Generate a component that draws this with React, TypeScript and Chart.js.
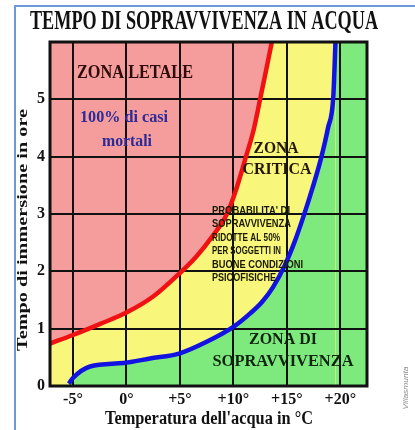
import React, { useEffect, useRef } from "react";
import { Chart, registerables } from "chart.js";

Chart.register(...registerables);

// ---- data ----
const redTemp = [-7.15, -5, -2.5, 0, 2.5, 5, 6.5, 8, 9.4, 10.3, 11.1, 11.9, 12.5, 13.0, 13.6];
const redHours = [0.74, 0.89, 1.08, 1.28, 1.56, 1.97, 2.25, 2.6, 3.0, 3.45, 3.95, 4.47, 5.0, 5.45, 6.0];

const blueTemp = [-5.4, -5, -3.4, -0.3, 2.2, 5.0, 7.5, 10.0, 11.6, 12.7, 13.7, 14.8, 15.7, 16.6, 17.4, 18.2, 18.85, 19.35, 19.55];
const blueHours = [0.04, 0.14, 0.34, 0.4, 0.48, 0.57, 0.77, 1.03, 1.27, 1.47, 1.72, 2.1, 2.5, 2.98, 3.45, 3.97, 4.5, 5.05, 6.0];

const xTickValues = [-5, 0, 5, 10, 15, 20];
const xTickLabels = ["-5°", "0°", "+5°", "+10°", "+15°", "+20°"];
const yTickValues = [0, 1, 2, 3, 4, 5];
const yTickLabels = ["0", "1", "2", "3", "4", "5"];

const xMin = -7.15;
const xMax = 22.5;
const yMin = 0;
const yMax = 6;

const titleText = "TEMPO DI SOPRAVVIVENZA IN ACQUA";
const xTitleText = "Temperatura dell'acqua in °C";
const yTitleText = "Tempo di immersione in ore";
const lethalLabel = "ZONA LETALE";
const lethalNote = ["100% di casi", "mortali"];
const criticalLabel = ["ZONA", "CRITICA"];
const criticalNote = [
  "PROBABILITA' DI",
  "SOPRAVVIVENZA",
  "RIDOTTE AL 50%",
  "PER SOGGETTI IN",
  "BUONE CONDIZIONI",
  "PSICOFISICHE",
];
const survivalLabel = ["ZONA DI", "SOPRAVVIVENZA"];
const creditText = "Villasmunta";

// ---- styles ----
const PINK = "#f59d9d";
const YELLOW = "#f9f67c";
const GREEN = "#7eea7e";
const RED = "#f01212";
const BLUE = "#1212e2";
const SERIF = "'Liberation Serif', 'Times New Roman', serif";
const SANS = "'Liberation Sans', Arial, sans-serif";

function fitText(
  ctx: CanvasRenderingContext2D,
  text: string,
  x: number,
  y: number,
  font: string,
  width: number,
  color: string,
  align: CanvasTextAlign = "center",
  rotate = 0
) {
  ctx.save();
  ctx.font = font;
  ctx.fillStyle = color;
  ctx.textBaseline = "middle";
  ctx.textAlign = align;
  const w = ctx.measureText(text).width;
  ctx.translate(x, y);
  if (rotate) ctx.rotate(rotate);
  ctx.scale(width / w, 1);
  ctx.fillText(text, 0, 0);
  ctx.restore();
}

const overlayPlugin = {
  id: "overlay",
  afterDatasetsDraw(chart: any) {
    const { ctx, chartArea: a } = chart;
    ctx.save();
    ctx.lineWidth = 3;
    ctx.strokeStyle = "#111";
    ctx.strokeRect(a.left, a.top, a.right - a.left, a.bottom - a.top);
    ctx.restore();
  },
  afterDraw(chart: any) {
    const ctx = chart.ctx as CanvasRenderingContext2D;
    fitText(ctx, titleText, 204, 22, `bold 28px ${SERIF}`, 348, "#111");
    fitText(ctx, xTitleText, 209, 419, `bold 18px ${SERIF}`, 208, "#111");
    fitText(ctx, yTitleText, 23, 230, `bold 14px ${SERIF}`, 242, "#111", "center", -Math.PI / 2);

    fitText(ctx, lethalLabel, 135, 73, `bold 18px ${SERIF}`, 116, "#2e0c0c");
    fitText(ctx, lethalNote[0], 124, 118, `bold 16px ${SERIF}`, 88, "#2c2a96");
    fitText(ctx, lethalNote[1], 127, 142, `bold 16px ${SERIF}`, 50, "#2c2a96");

    fitText(ctx, criticalLabel[0], 276, 149, `bold 17px ${SERIF}`, 45, "#241800");
    fitText(ctx, criticalLabel[1], 277, 170, `bold 17px ${SERIF}`, 69, "#241800");

    const noteWidths = [78, 79, 68, 69, 91, 64];
    const noteY = [211, 224, 238, 251, 265, 278];
    criticalNote.forEach((t, i) =>
      fitText(ctx, t, 212, noteY[i], `bold 11px ${SANS}`, noteWidths[i], "#1a1a00", "left")
    );

    fitText(ctx, survivalLabel[0], 283, 340, `bold 17px ${SERIF}`, 68, "#112411");
    fitText(ctx, survivalLabel[1], 283, 362, `bold 17px ${SERIF}`, 141, "#112411");

    fitText(ctx, creditText, 406, 388, `italic 8px ${SANS}`, 43, "#8a8a8a", "center", -Math.PI / 2);
  },
};

const pts = (xs: number[], ys: number[]) => xs.map((x, i) => ({ x, y: ys[i] }));

export default function App() {
  const ref = useRef<HTMLCanvasElement | null>(null);

  useEffect(() => {
    if (!ref.current) return;
    const chart = new Chart(ref.current, {
      type: "line",
      data: {
        datasets: [
          {
            label: "Limite zona letale",
            data: pts(redTemp, redHours),
            borderColor: RED,
            borderWidth: 4.5,
            backgroundColor: PINK,
            fill: "end",
            pointRadius: 0,
            cubicInterpolationMode: "monotone",
          },
          {
            label: "Limite zona di sopravvivenza",
            data: pts(blueTemp, blueHours),
            borderColor: BLUE,
            borderWidth: 4.5,
            backgroundColor: GREEN,
            fill: "start",
            pointRadius: 0,
            cubicInterpolationMode: "monotone",
          },
          {
            label: "green rest",
            data: [
              { x: blueTemp[blueTemp.length - 1], y: yMax },
              { x: xMax, y: yMax },
            ],
            borderColor: "rgba(0,0,0,0)",
            borderWidth: 0,
            backgroundColor: GREEN,
            fill: "start",
            pointRadius: 0,
          },
          {
            label: "critical background",
            data: [
              { x: xMin, y: yMax },
              { x: xMax, y: yMax },
            ],
            borderColor: "rgba(0,0,0,0)",
            borderWidth: 0,
            backgroundColor: YELLOW,
            fill: "start",
            pointRadius: 0,
          },
        ],
      } as any,
      plugins: [overlayPlugin],
      options: {
        animation: false,
        responsive: false,
        maintainAspectRatio: false,
        events: [],
        layout: { padding: { top: 42, right: 48, left: 0, bottom: 0 } },
        plugins: {
          legend: { display: false },
          tooltip: { enabled: false },
          title: { display: false },
          filler: { drawTime: "beforeDraw" },
        } as any,
        scales: {
          x: {
            type: "linear",
            min: xMin,
            max: xMax,
            afterBuildTicks: (s: any) => {
              s.ticks = xTickValues.map((v) => ({ value: v }));
            },
            afterFit: (s: any) => {
              s.height = 44;
            },
            ticks: {
              autoSkip: false,
              maxRotation: 0,
              padding: 4,
              color: "#111",
              font: { family: SERIF, size: 16, weight: "bold" },
              callback: (_v: any, i: number) => xTickLabels[i],
            },
            grid: { color: "#111", lineWidth: 2, drawTicks: false },
            border: { display: false },
          },
          y: {
            type: "linear",
            min: yMin,
            max: yMax,
            afterBuildTicks: (s: any) => {
              s.ticks = yTickValues.map((v) => ({ value: v }));
            },
            afterFit: (s: any) => {
              s.width = 50;
            },
            ticks: {
              autoSkip: false,
              padding: 5,
              color: "#111",
              font: { family: SERIF, size: 16, weight: "bold" },
              callback: (_v: any, i: number) => yTickLabels[i],
            },
            grid: { color: "#111", lineWidth: 2, drawTicks: false },
            border: { display: false },
          },
        },
      } as any,
    });
    return () => chart.destroy();
  }, []);

  return (
    <div style={{ position: "absolute", left: 0, top: 0, width: 415, height: 430, background: "#fff", overflow: "hidden" }}>
      <div
        style={{
          position: "absolute",
          left: 14,
          top: 5,
          width: 420,
          height: 440,
          borderLeft: "2px solid #6f97d8",
          borderTop: "2px solid #6f97d8",
        }}
      />
      <canvas ref={ref} width={415} height={430} style={{ position: "absolute", left: 0, top: 0, width: 415, height: 430 }} />
    </div>
  );
}
